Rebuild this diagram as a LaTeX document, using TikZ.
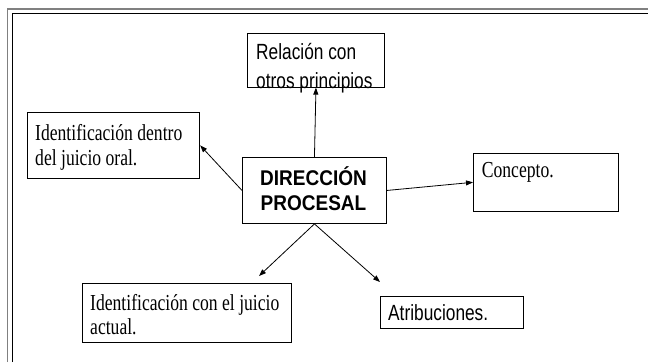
\documentclass[tikz,border=0pt]{standalone}
\usepackage{graphicx}
\usepackage{fontspec}
\setmainfont{Liberation Serif}
\setsansfont{Liberation Sans}
\usetikzlibrary{arrows.meta}
\newcommand{\tallS}[1]{\scalebox{1}[1.3]{#1}}
\newcommand{\tallA}[1]{\scalebox{1}[1.27]{#1}}
\newcommand{\tallB}[1]{\scalebox{1}[1.12]{#1}}
\begin{document}
\begin{tikzpicture}[x=1pt,y=-1pt,
  box/.style={draw, line width=0.9pt, inner sep=0pt, anchor=north west},
  serif/.style={font=\fontsize{17.6}{20}\selectfont, inner sep=0pt, anchor=base west},
  sans/.style={font=\sffamily\fontsize{17.3}{20}\selectfont, inner sep=0pt, anchor=base west},
  title/.style={font=\sffamily\bfseries\fontsize{19}{22}\selectfont, inner sep=0pt, anchor=base},
  conn/.style={line width=0.8pt, -{Triangle[length=7pt,width=5pt]}}]
\useasboundingbox (0,0) rectangle (648,362);
% frame
\draw[gray, line width=1.3pt] (7.5,362) -- (7.5,9) -- (648,9);
\draw[black, line width=1pt] (12.5,362) -- (12.5,13.5) -- (648,13.5);
% boxes
\node[box, minimum width=137.6pt, minimum height=54pt] (rel) at (246.7,32.7) {};
\node[box, minimum width=172.6pt, minimum height=66.6pt] (ident1) at (26.7,111.7) {};
\node[box, minimum width=144pt, minimum height=66pt] (center) at (242,157) {};
\node[box, minimum width=144.7pt, minimum height=58.3pt] (concept) at (473,152.7) {};
\node[box, minimum width=209pt, minimum height=58.4pt] (ident2) at (81.7,283.3) {};
\node[box, minimum width=143pt, minimum height=32pt] (atrib) at (380,296) {};
% texts
\node[sans] (relA) at (256,59.3) {\tallA{Relación con}};
\node[sans] (relB) at (256,88) {\tallA{otros principios}};
\node[serif] (idA) at (35,140.7) {\tallS{Identificación dentro}};
\node[serif] (idB) at (35,165) {\tallS{del juicio oral.}};
\node[title] (cenA) at (313.5,185) {\tallB{DIRECCIÓN}};
\node[title] (cenB) at (313.5,210) {\tallB{PROCESAL}};
\node[serif] (conT) at (481.7,177.3) {\tallS{Concepto.}};
\node[serif] (id2A) at (90,310.7) {\tallS{Identificación con el juicio}};
\node[serif] (id2B) at (90,334.3) {\tallS{actual.}};
\node[sans] (atT) at (388,320.7) {\tallA{Atribuciones.}};
% connectors
\coordinate (p4) at (259,276);
\coordinate (p5) at (380,282);
\draw[conn] (center.north) -- (rel.south);
\draw[conn] (center.west) -- (ident1.east);
\draw[conn] (center.east) -- (concept.west);
\draw[conn] (center.south) -- (p4);
\draw[conn] (center.south) -- (p5);
\end{tikzpicture}
\end{document}
